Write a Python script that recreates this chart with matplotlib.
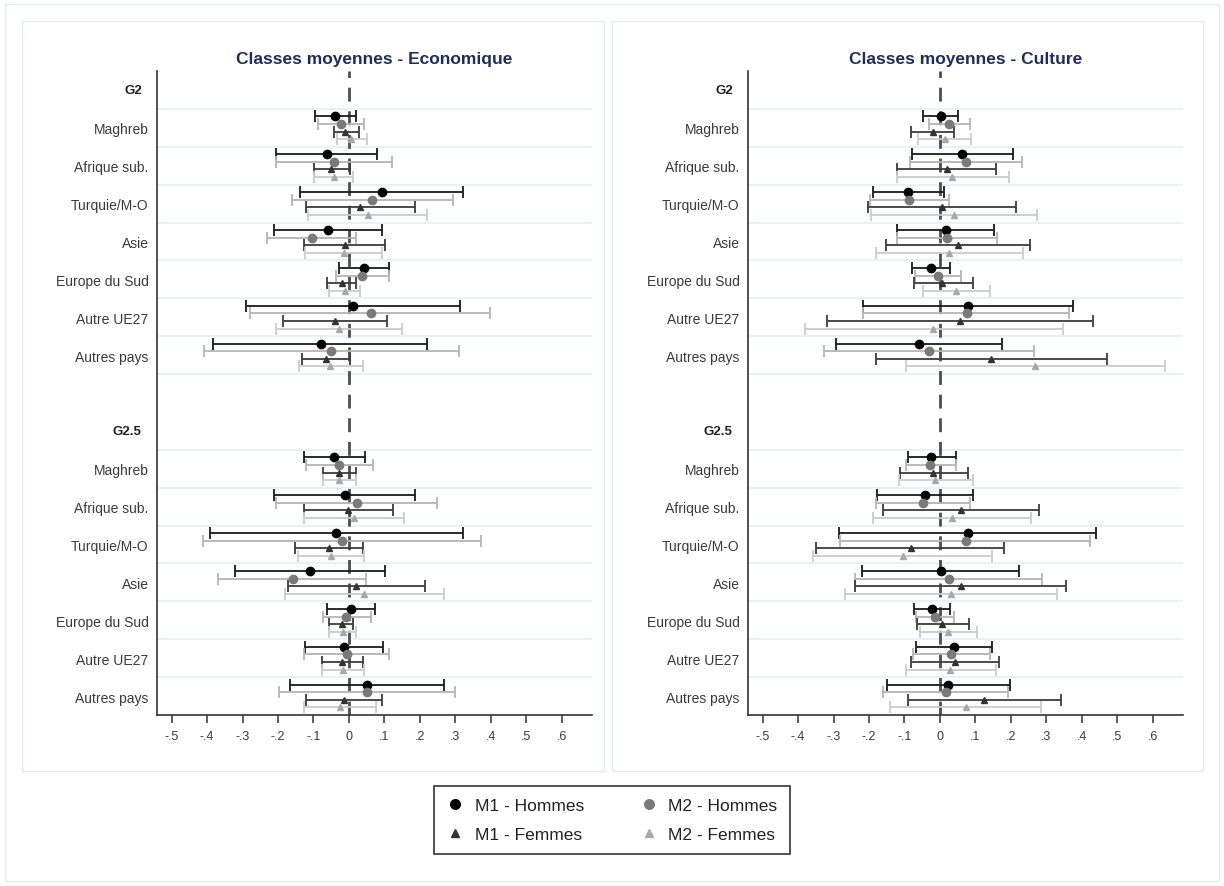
import matplotlib
matplotlib.use("Agg")
import matplotlib.pyplot as plt
from matplotlib.lines import Line2D
from matplotlib.patches import Rectangle
import matplotlib.transforms as mtransforms
import numpy as np

plt.rcParams['font.family'] = ['Liberation Sans', 'DejaVu Sans']

# Rows: group headers and categories
groups = ["G2", "G2.5"]
categories = ["Maghreb", "Afrique sub.", "Turquie/M-O", "Asie",
              "Europe du Sud", "Autre UE27", "Autres pays"]
xtick_vals = [-0.5, -0.4, -0.3, -0.2, -0.1, 0, 0.1, 0.2, 0.3, 0.4, 0.5, 0.6]
xtick_labels = ["-.5", "-.4", "-.3", "-.2", "-.1", "0", ".1", ".2", ".3", ".4", ".5", ".6"]
series_names = ["M1 - Hommes", "M2 - Hommes", "M1 - Femmes", "M2 - Femmes"]

# Economique: 7 values for G2 followed by 7 values for G2.5
eco_m1h = [-0.039, -0.063, 0.092, -0.058, 0.043, 0.012, -0.080, -0.041, -0.010, -0.036, -0.111, 0.007, -0.014, 0.051]
eco_m1h_lo = [-0.097, -0.205, -0.138, -0.211, -0.027, -0.290, -0.382, -0.128, -0.211, -0.393, -0.321, -0.063, -0.123, -0.167]
eco_m1h_hi = [0.019, 0.079, 0.321, 0.092, 0.114, 0.314, 0.220, 0.045, 0.186, 0.321, 0.101, 0.072, 0.097, 0.268]
eco_m2h = [-0.022, -0.042, 0.065, -0.104, 0.037, 0.061, -0.051, -0.027, 0.024, -0.019, -0.157, -0.008, -0.005, 0.051]
eco_m2h_lo = [-0.087, -0.205, -0.161, -0.232, -0.036, -0.280, -0.409, -0.121, -0.205, -0.411, -0.369, -0.072, -0.128, -0.196]
eco_m2h_hi = [0.043, 0.121, 0.292, 0.021, 0.114, 0.398, 0.309, 0.068, 0.249, 0.372, 0.048, 0.063, 0.114, 0.298]
eco_m1f = [-0.010, -0.051, 0.031, -0.012, -0.019, -0.039, -0.065, -0.027, -0.003, -0.056, 0.021, -0.021, -0.021, -0.014]
eco_m1f_lo = [-0.043, -0.099, -0.121, -0.126, -0.063, -0.186, -0.132, -0.072, -0.128, -0.152, -0.171, -0.056, -0.077, -0.121]
eco_m1f_hi = [0.027, 0.003, 0.186, 0.103, 0.019, 0.108, 0.003, 0.019, 0.124, 0.039, 0.215, 0.012, 0.039, 0.092]
eco_m2f = [0.005, -0.043, 0.055, -0.014, -0.012, -0.029, -0.053, -0.027, 0.014, -0.050, 0.042, -0.017, -0.017, -0.024]
eco_m2f_lo = [-0.034, -0.099, -0.116, -0.123, -0.056, -0.205, -0.142, -0.072, -0.128, -0.145, -0.179, -0.056, -0.077, -0.126]
eco_m2f_hi = [0.051, 0.010, 0.220, 0.094, 0.032, 0.150, 0.039, 0.019, 0.155, 0.043, 0.268, 0.019, 0.042, 0.077]

# Culture
cul_m1h = [0.002, 0.063, -0.090, 0.017, -0.025, 0.080, -0.058, -0.024, -0.042, 0.080, 0.002, -0.022, 0.039, 0.024]
cul_m1h_lo = [-0.049, -0.078, -0.189, -0.121, -0.078, -0.217, -0.292, -0.090, -0.178, -0.284, -0.219, -0.073, -0.068, -0.150]
cul_m1h_hi = [0.052, 0.206, 0.010, 0.152, 0.028, 0.376, 0.175, 0.046, 0.094, 0.441, 0.222, 0.029, 0.146, 0.198]
cul_m2h = [0.026, 0.072, -0.087, 0.021, -0.005, 0.075, -0.030, -0.027, -0.049, 0.073, 0.026, -0.015, 0.031, 0.017]
cul_m2h_lo = [-0.030, -0.085, -0.197, -0.121, -0.071, -0.217, -0.326, -0.097, -0.181, -0.282, -0.239, -0.068, -0.076, -0.161]
cul_m2h_hi = [0.086, 0.230, 0.026, 0.162, 0.058, 0.364, 0.266, 0.044, 0.084, 0.424, 0.288, 0.039, 0.141, 0.193]
cul_m1f = [-0.020, 0.019, 0.005, 0.050, 0.007, 0.057, 0.143, -0.019, 0.058, -0.083, 0.058, 0.007, 0.041, 0.123]
cul_m1f_lo = [-0.083, -0.121, -0.202, -0.153, -0.073, -0.317, -0.181, -0.112, -0.161, -0.348, -0.239, -0.066, -0.083, -0.090]
cul_m1f_hi = [0.039, 0.159, 0.213, 0.254, 0.092, 0.431, 0.471, 0.080, 0.279, 0.180, 0.356, 0.082, 0.167, 0.340]
cul_m2f = [0.014, 0.034, 0.039, 0.026, 0.044, -0.019, 0.269, -0.013, 0.034, -0.105, 0.031, 0.024, 0.029, 0.072]
cul_m2f_lo = [-0.061, -0.121, -0.195, -0.181, -0.049, -0.380, -0.097, -0.115, -0.190, -0.357, -0.267, -0.056, -0.097, -0.142]
cul_m2f_hi = [0.087, 0.194, 0.274, 0.235, 0.140, 0.347, 0.635, 0.092, 0.256, 0.146, 0.329, 0.104, 0.157, 0.285]

# style per series: marker, marker colour, bar colour, marker size, offset
styles = [
    ('o', '#000000', '#1a1a1a', 6.0, -0.3),
    ('o', '#7a7a7a', '#b4b4b4', 6.0, -0.1),
    ('^', '#333333', '#3c3c3c', 4.5, 0.1),
    ('^', '#a8a8a8', '#cccccc', 4.5, 0.3),
]

# row positions: header at 0 and 9, categories at 1-7 and 10-16
cat_rows = np.array(list(range(1, 8)) + list(range(10, 17)), dtype=float)
header_rows = [0, 9]

fig = plt.figure(figsize=(12.24, 8.87), dpi=100)
W, H = 1224.0, 887.0

# panel frames (Stata-like graph regions)
for (x0, y0, x1, y1) in [(5, 5, 1219, 882), (22, 22, 604, 772), (612, 22, 1203, 772)]:
    fig.patches.append(Rectangle((x0 / W, 1 - y1 / H), (x1 - x0) / W, (y1 - y0) / H,
                                 transform=fig.transFigure, fill=False,
                                 edgecolor='#e3eaee', lw=1.0))

label_col = '#3a3a3a'


def draw_panel(ax, title, data):
    ax.axvline(0, color='#4d4d4d', lw=2.0, ls=(0, (5, 3.5)), zorder=1)
    for r in list(np.arange(0.5, 8, 1.0)) + list(np.arange(9.5, 16, 1.0)):
        ax.axhline(r, color='#e6eff2', lw=1.2, zorder=0)
    for (pt, lo, hi), (mk, mc, bc, ms, off) in zip(data, styles):
        pt = np.array(pt)
        y = cat_rows + off
        err = np.vstack([pt - np.array(lo), np.array(hi) - pt])
        ax.errorbar(pt, y, xerr=err, fmt='none', ecolor=bc, elinewidth=1.3,
                    capsize=4.5, capthick=1.3, zorder=2)
        ax.plot(pt, y, ls='none', marker=mk, color=mc, ms=ms, mec=mc, zorder=3)
    ax.set_xlim(-0.541, 0.685)
    ax.set_ylim(16.5, -0.5)
    ax.set_xticks(xtick_vals)
    ax.set_xticklabels(xtick_labels, fontsize=9, color=label_col)
    ax.set_yticks(cat_rows)
    ax.set_yticklabels(categories * 2, fontsize=10, color=label_col)
    ax.tick_params(axis='y', length=0, pad=6)
    ax.tick_params(axis='x', length=6, width=1.1, color='#333333', pad=5)
    trans = mtransforms.blended_transform_factory(ax.transAxes, ax.transData)
    for g, r in zip(groups, header_rows):
        ax.text(-0.035, r, g, transform=trans, ha='right', va='center',
                fontsize=9.5, fontweight='bold', color='#222222')
    for s in ['top', 'right']:
        ax.spines[s].set_visible(False)
    for s in ['left', 'bottom']:
        ax.spines[s].set_color('#333333')
        ax.spines[s].set_linewidth(1.2)
    ax.set_title(title, fontsize=12.5, fontweight='bold', color='#1f2d5c', pad=6)


ax1 = fig.add_axes([157 / W, 1 - 716 / H, 435 / W, 644 / H])
ax2 = fig.add_axes([748 / W, 1 - 716 / H, 435 / W, 644 / H])

draw_panel(ax1, "Classes moyennes - Economique", [
    (eco_m1h, eco_m1h_lo, eco_m1h_hi),
    (eco_m2h, eco_m2h_lo, eco_m2h_hi),
    (eco_m1f, eco_m1f_lo, eco_m1f_hi),
    (eco_m2f, eco_m2f_lo, eco_m2f_hi),
])
draw_panel(ax2, "Classes moyennes - Culture", [
    (cul_m1h, cul_m1h_lo, cul_m1h_hi),
    (cul_m2h, cul_m2h_lo, cul_m2h_hi),
    (cul_m1f, cul_m1f_lo, cul_m1f_hi),
    (cul_m2f, cul_m2f_lo, cul_m2f_hi),
])

handles = [Line2D([], [], ls='none', marker=mk, color=mc, ms=ms * 1.15, mec=mc)
           for (mk, mc, bc, ms, off) in styles]
# order so columns read M1/M2
order = [0, 2, 1, 3]
leg = fig.legend([handles[i] for i in order], [series_names[i] for i in order],
                 ncol=2, loc='center', bbox_to_anchor=(612 / W, 1 - 821 / H),
                 fontsize=12.5, frameon=True, fancybox=False, edgecolor='#000000',
                 handlelength=1.0, handletextpad=0.65, columnspacing=3.2,
                 labelspacing=0.75, borderpad=0.7)
leg.get_frame().set_linewidth(1.2)
for t in leg.get_texts():
    t.set_color('#222222')

fig.savefig("out.png", dpi=100, facecolor='white')
